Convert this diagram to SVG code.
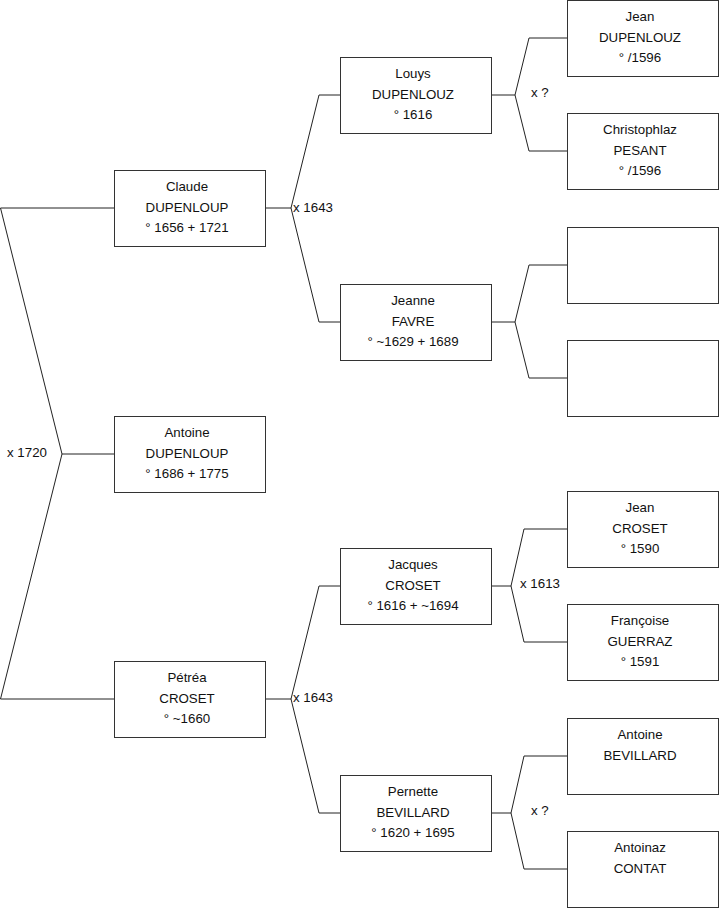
<svg xmlns="http://www.w3.org/2000/svg" width="719" height="908" viewBox="0 0 719 908">
<style>
rect.b{fill:#fff;stroke:#333;stroke-width:1}
text{font-family:"Liberation Sans",Arial,sans-serif;font-size:13.3px;fill:#111}
text.c{text-anchor:middle}
.con path{fill:none;stroke:#222;stroke-width:1}
</style>
<rect width="719" height="908" fill="#fff"/>
<g class="con" id="connectors">
<path d="M114.5,454 H62 L0.5,208 H114.5 M62,454 L0.5,699 H114.5"/>
<path d="M265.5,208 H291 L319,95 H340.5 M291,208 L319,322 H340.5"/>
<path d="M265.5,699 H291 L319,586 H340.5 M291,699 L319,813 H340.5"/>
<path d="M491.5,95 H515 L529,38 H567.5 M515,95 L529,151 H567.5"/>
<path d="M491.5,322 H515 L529,265 H567.5 M515,322 L529,378 H567.5"/>
<path d="M491.5,586 H511 L524,529 H567.5 M511,586 L524,642 H567.5"/>
<path d="M491.5,813 H511 L524,756 H567.5 M511,813 L524,869 H567.5"/>
</g>
<g id="labels">
<text x="7" y="457">x 1720</text>
<text x="293" y="211.5">x 1643</text>
<text x="293" y="702">x 1643</text>
<text x="531" y="97">x ?</text>
<text x="520" y="587.5">x 1613</text>
<text x="531" y="815">x ?</text>
</g>
<g id="claude"><rect class="b" x="114.5" y="170.5" width="151" height="76"/><text class="c" x="187" y="190.5">Claude</text><text class="c" x="187" y="211.5">DUPENLOUP</text><text class="c" x="187" y="232">° 1656 + 1721</text></g>
<g id="antoine"><rect class="b" x="114.5" y="416.5" width="151" height="76"/><text class="c" x="187" y="436.5">Antoine</text><text class="c" x="187" y="457.5">DUPENLOUP</text><text class="c" x="187" y="478">° 1686 + 1775</text></g>
<g id="petrea"><rect class="b" x="114.5" y="661.5" width="151" height="76"/><text class="c" x="187" y="681.5">Pétréa</text><text class="c" x="187" y="702.5">CROSET</text><text class="c" x="187" y="723">° ~1660</text></g>
<g id="louys"><rect class="b" x="340.5" y="57.5" width="151" height="76"/><text class="c" x="413" y="77.5">Louys</text><text class="c" x="413" y="98.5">DUPENLOUZ</text><text class="c" x="413" y="119">° 1616</text></g>
<g id="jeanne"><rect class="b" x="340.5" y="284.5" width="151" height="76"/><text class="c" x="413" y="304.5">Jeanne</text><text class="c" x="413" y="325.5">FAVRE</text><text class="c" x="413" y="346">° ~1629 + 1689</text></g>
<g id="jacques"><rect class="b" x="340.5" y="548.5" width="151" height="76"/><text class="c" x="413" y="568.5">Jacques</text><text class="c" x="413" y="589.5">CROSET</text><text class="c" x="413" y="610">° 1616 + ~1694</text></g>
<g id="pernette"><rect class="b" x="340.5" y="775.5" width="151" height="76"/><text class="c" x="413" y="795.5">Pernette</text><text class="c" x="413" y="816.5">BEVILLARD</text><text class="c" x="413" y="837">° 1620 + 1695</text></g>
<g id="jean-dupenlouz"><rect class="b" x="567.5" y="0.5" width="151" height="76"/><text class="c" x="640" y="20.5">Jean</text><text class="c" x="640" y="41.5">DUPENLOUZ</text><text class="c" x="640" y="62">° /1596</text></g>
<g id="christophlaz"><rect class="b" x="567.5" y="113.5" width="151" height="76"/><text class="c" x="640" y="133.5">Christophlaz</text><text class="c" x="640" y="154.5">PESANT</text><text class="c" x="640" y="175">° /1596</text></g>
<g id="empty1"><rect class="b" x="567.5" y="227.5" width="151" height="76"/></g>
<g id="empty2"><rect class="b" x="567.5" y="340.5" width="151" height="76"/></g>
<g id="jean-croset"><rect class="b" x="567.5" y="491.5" width="151" height="76"/><text class="c" x="640" y="511.5">Jean</text><text class="c" x="640" y="532.5">CROSET</text><text class="c" x="640" y="553">° 1590</text></g>
<g id="francoise"><rect class="b" x="567.5" y="604.5" width="151" height="76"/><text class="c" x="640" y="624.5">Françoise</text><text class="c" x="640" y="645.5">GUERRAZ</text><text class="c" x="640" y="666">° 1591</text></g>
<g id="antoine-bevillard"><rect class="b" x="567.5" y="718.5" width="151" height="76"/><text class="c" x="640" y="738.5">Antoine</text><text class="c" x="640" y="759.5">BEVILLARD</text></g>
<g id="antoinaz"><rect class="b" x="567.5" y="831.5" width="151" height="76"/><text class="c" x="640" y="851.5">Antoinaz</text><text class="c" x="640" y="872.5">CONTAT</text></g>
</svg>
